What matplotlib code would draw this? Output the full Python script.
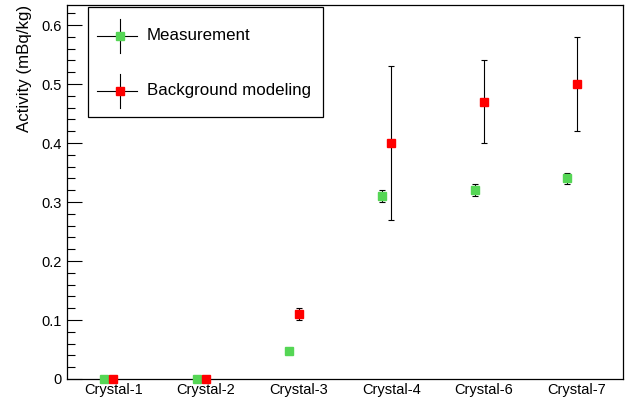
import matplotlib.pyplot as plt
from matplotlib.lines import Line2D
from matplotlib.patches import Rectangle
from matplotlib.ticker import MultipleLocator

plt.rcParams['font.family'] = ['Liberation Sans', 'DejaVu Sans']

crystals = ["Crystal-1", "Crystal-2", "Crystal-3", "Crystal-4", "Crystal-6", "Crystal-7"]
meas = [0.0, 0.0, 0.047, 0.31, 0.32, 0.34]
meas_err = [0.0, 0.0, 0.0, 0.01, 0.01, 0.01]
bkg = [0.0, 0.0, 0.11, 0.40, 0.47, 0.50]
bkg_err = [0.0, 0.0, 0.01, 0.13, 0.07, 0.08]

green = '#55d655'
red = '#ff0000'

W, H = 631, 401
fig = plt.figure(figsize=(W / 100, H / 100), dpi=100)
ax = fig.add_axes([67 / W, 1 - 379 / H, (623 - 67) / W, (379 - 5) / H])

# bottom frame line drawn by hand so the zero points sit on top of it
ax.spines['bottom'].set_visible(False)
ax.axhline(0, color='black', lw=0.9, clip_on=False, zorder=1)

for offset, vals, errs, col in [(0.4, meas, meas_err, green), (0.5, bkg, bkg_err, red)]:
    xs = [i + offset for i in range(len(crystals))]
    # error bars only where there is an uncertainty
    keep = [i for i, e in enumerate(errs) if e > 0]
    ax.errorbar([xs[i] for i in keep], [vals[i] for i in keep], yerr=[errs[i] for i in keep],
                fmt='none', ecolor='black', elinewidth=0.8, capsize=2.2, capthick=0.8, zorder=3)
    ax.plot(xs, vals, 's', color=col, ms=6, clip_on=False, zorder=10)

ax.set_xlim(0, len(crystals))
ax.set_ylim(0, 0.634)
ax.set_xticks([i + 0.5 for i in range(len(crystals))])
ax.set_xticklabels(crystals, fontsize=10.5)
ax.tick_params(axis='x', length=0, pad=3)
ax.yaxis.set_minor_locator(MultipleLocator(0.02))
ax.set_yticks([0, 0.1, 0.2, 0.3, 0.4, 0.5, 0.6])
ax.set_yticklabels(['0', '0.1', '0.2', '0.3', '0.4', '0.5', '0.6'])
ax.tick_params(axis='y', which='major', direction='in', length=11, width=0.8, labelsize=10.5, pad=4)
ax.tick_params(axis='y', which='minor', direction='in', length=5.5, width=0.8)
ax.set_ylabel('Activity (mBq/kg)', fontsize=12.2)
ax.yaxis.set_label_coords(-0.063, 1.0)
ax.yaxis.label.set_ha('right')
ax.yaxis.label.set_va('bottom')
for s in ax.spines.values():
    s.set_linewidth(0.9)

# legend box drawn in figure pixels
tf = fig.transFigure
fig.patches.append(Rectangle((88 / W, 1 - 117 / H), (323 - 88) / W, 110 / H, transform=tf,
                             facecolor='white', edgecolor='black', lw=0.9, zorder=5))
for yc, col, label in [(36, green, 'Measurement'), (91, red, 'Background modeling')]:
    fig.lines.append(Line2D([97 / W, 137 / W], [1 - yc / H] * 2, transform=tf, color='black', lw=0.8, zorder=6))
    fig.lines.append(Line2D([120 / W] * 2, [1 - (yc - 17) / H, 1 - (yc + 17) / H], transform=tf,
                            color='black', lw=0.8, zorder=6))
    fig.lines.append(Line2D([120 / W], [1 - yc / H], transform=tf, marker='s', ms=6,
                            color=col, ls='none', zorder=7))
    fig.text(147 / W, 1 - yc / H, label, fontsize=12.2, va='center', ha='left', zorder=7)

fig.savefig('out.png', dpi=100)
